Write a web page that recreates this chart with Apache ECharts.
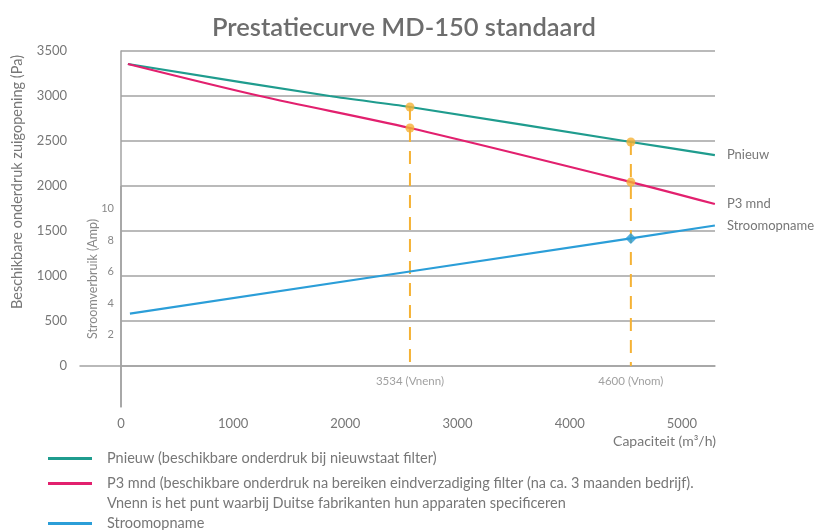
<!DOCTYPE html>
<html>
<head>
<meta charset="utf-8">
<script src="https://cdn.jsdelivr.net/npm/echarts@6/dist/echarts.min.js"></script>
<style>html,body{margin:0;padding:0;background:#fff;}#c{width:828px;height:530px;}</style>
</head>
<body>
<div id="c"></div>
<script>
// ---- data ----
const pnieuwCap = [62, 1860, 2576, 4545, 5294];
const pnieuwPa  = [3356, 3000, 2878, 2489, 2344];
const p3Cap     = [62, 1240, 2576, 4545, 5294];
const p3Pa      = [3356, 3000, 2644, 2044, 1800];
const stroomCap = [80, 2576, 4545, 5294];
const stroomAmp = [3.33, 6.0, 8.1, 8.92];
const refCap    = [2576, 4545];
const refLabels = ['3534 (Vnenn)', '4600 (Vnom)'];
const refPnieuwPa = [2878, 2489];
const refP3Pa     = [2644, 2044];
const refBasePa   = [0, 0];
const refStroomCap = [4545];
const refStroomAmp = [8.1];
const paTicks  = [0, 500, 1000, 1500, 2000, 2500, 3000, 3500];
const ampTicks = [2, 4, 6, 8, 10];
const capTicks = [0, 1000, 2000, 3000, 4000, 5000];
const seriesNames = ['Pnieuw', 'P3 mnd', 'Stroomopname'];
const legendTexts = [
  'Pnieuw (beschikbare onderdruk bij nieuwstaat filter)',
  'P3 mnd (beschikbare onderdruk na bereiken eindverzadiging filter (na ca. 3 maanden bedrijf).',
  'Stroomopname'
];
const legendNote = 'Vnenn is het punt waarbij Duitse fabrikanten hun apparaten specificeren';

// axis ranges
const capMin = -365, capMax = 5295;
const paMin = -455, paMax = 3500;
const ampMin = -2.6, ampMax = 20;
const innerBoxTop = 2000;

const colors = {teal: '#1f9c8e', magenta: '#e2206e', blue: '#2b9ed8', orange: '#f5b235', grid: '#a3a3a3', text: '#777777'};
const FONT = 'Lato, "Open Sans", sans-serif';

const zip = (a, b) => a.map((v, i) => [v, b[i]]);
const plain = v => String(v);

const gridLines = paTicks.map(v => [{coord: [0, v]}, {coord: [capMax, v]}]);
gridLines.push([{coord: [0, innerBoxTop]}, {coord: [0, paMin]}]);

const refSeries = refCap.map((x, i) => ({
  type: 'line', name: refLabels[i], yAxisIndex: 0, z: 2, silent: true,
  symbol: 'none',
  data: [[x, refPnieuwPa[i]], [x, refBasePa[i]]],
  lineStyle: {color: colors.orange, width: 2, type: [13, 9]}
}));

const chart = echarts.init(document.getElementById('c'));
chart.setOption({
  animation: false,
  title: {text: 'Prestatiecurve MD-150 standaard', left: 207, top: 10,
    textStyle: {fontFamily: FONT, fontSize: 25.5, fontWeight: 600, color: '#6d6d6d'}},
  grid: {left: 80, right: 113, top: 51, bottom: 123, containLabel: false},
  xAxis: {type: 'value', min: capMin, max: capMax,
    axisLine: {show: true, lineStyle: {color: colors.grid, width: 1.5}},
    axisTick: {show: false}, splitLine: {show: false},
    axisLabel: {customValues: capTicks, formatter: plain, margin: 10, fontSize: 13, color: colors.text, fontFamily: FONT}
  },
  yAxis: [
    {type: 'value', min: paMin, max: paMax, position: 'left',
      axisLine: {show: true, lineStyle: {color: colors.grid, width: 1.5}},
      axisTick: {show: false}, splitLine: {show: false},
      axisLabel: {customValues: paTicks, formatter: plain, margin: 13, fontSize: 13, color: colors.text, fontFamily: FONT}},
    {type: 'value', min: ampMin, max: ampMax, position: 'left', offset: -42,
      axisLine: {show: false}, axisTick: {show: false}, splitLine: {show: false},
      axisLabel: {customValues: ampTicks, formatter: plain, margin: 8, fontSize: 11, color: '#888', fontFamily: FONT}}
  ],
  legend: seriesNames.map((n, i) => ({
    data: [n], left: 48, top: [451, 476, 516][i], padding: 0, selectedMode: false,
    icon: 'rect', itemWidth: 44, itemHeight: 3,
    formatter: () => legendTexts[i],
    textStyle: {fontFamily: FONT, fontSize: 14.5, color: colors.text, padding: [0, 0, 0, 10]}
  })),
  graphic: [
    {type: 'text', left: 107, top: 496, style: {text: legendNote, fontFamily: FONT, fontSize: 14.5, fill: colors.text}},
    {type: 'text', x: 716, y: 441, style: {text: 'Capaciteit (m³/h)', fontFamily: FONT, fontSize: 14, fill: colors.text, align: 'right', verticalAlign: 'middle'}},
    {type: 'text', x: 17, y: 182, rotation: Math.PI / 2, style: {text: 'Beschikbare onderdruk zuigopening (Pa)', fontFamily: FONT, fontSize: 14.5, fill: colors.text, align: 'center', verticalAlign: 'middle'}},
    {type: 'text', x: 93, y: 279, rotation: Math.PI / 2, style: {text: 'Stroomverbruik (Amp)', fontFamily: FONT, fontSize: 12.5, fill: '#888', align: 'center', verticalAlign: 'middle'}}
  ],
  series: [
    {type: 'line', name: '__grid', data: [], z: 1, silent: true,
      markLine: {silent: true, z: 1, symbol: ['none', 'none'], label: {show: false},
        lineStyle: {color: colors.grid, width: 1.5, type: 'solid'}, data: gridLines}},
    {type: 'line', name: seriesNames[0], data: zip(pnieuwCap, pnieuwPa), yAxisIndex: 0, z: 3,
      symbol: 'none', smooth: 0.3, color: colors.teal, lineStyle: {width: 2.2},
      endLabel: {show: true, distance: 12, formatter: '{a}', fontSize: 13, color: colors.text, fontFamily: FONT}},
    {type: 'line', name: seriesNames[1], data: zip(p3Cap, p3Pa), yAxisIndex: 0, z: 3,
      symbol: 'none', smooth: 0.3, color: colors.magenta, lineStyle: {width: 2.2},
      endLabel: {show: true, distance: 12, formatter: '{a}', fontSize: 13, color: colors.text, fontFamily: FONT}},
    {type: 'line', name: seriesNames[2], data: zip(stroomCap, stroomAmp), yAxisIndex: 1, z: 3,
      symbol: 'none', color: colors.blue, lineStyle: {width: 2.2},
      endLabel: {show: true, distance: 12, formatter: '{a}', fontSize: 13, color: colors.text, fontFamily: FONT}},
    ...refSeries,
    {type: 'scatter', name: 'refLabels', yAxisIndex: 0, z: 4, symbolSize: 0, silent: true,
      data: zip(refCap, refBasePa),
      label: {show: true, position: 'bottom', distance: 9, formatter: p => refLabels[p.dataIndex],
        fontSize: 11.5, color: '#888', fontFamily: FONT}},
    {type: 'scatter', name: 'refPoints', yAxisIndex: 0, z: 4, symbol: 'circle', symbolSize: 9,
      itemStyle: {color: colors.orange},
      data: zip(refCap, refPnieuwPa).concat(zip(refCap, refP3Pa))},
    {type: 'scatter', name: 'refStroom', yAxisIndex: 1, z: 4, symbol: 'diamond', symbolSize: 11,
      itemStyle: {color: colors.blue},
      data: zip(refStroomCap, refStroomAmp)}
  ]
});
</script>
</body>
</html>
